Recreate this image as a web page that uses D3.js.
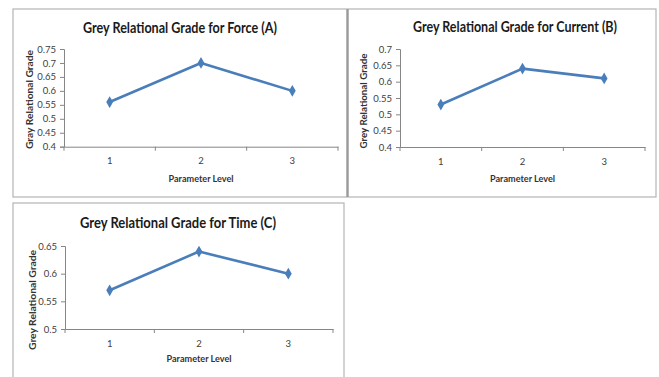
<!DOCTYPE html>
<html>
<head>
<meta charset="utf-8">
<script src="https://cdn.jsdelivr.net/npm/d3@7"></script>
<style>
  html, body { margin: 0; padding: 0; background: #fff; }
  svg { display: block; }
  text { font-family: Lato, "Open Sans", sans-serif; }
</style>
</head>
<body>
<svg id="chart" width="659" height="377"></svg>
<script>
// ---- Data ----
const levels = ["1", "2", "3"];
const forceValues = [0.56, 0.70, 0.60];
const currentValues = [0.53, 0.64, 0.61];
const timeValues = [0.57, 0.64, 0.60];
const forceTicks = [0.4, 0.45, 0.5, 0.55, 0.6, 0.65, 0.7, 0.75];
const currentTicks = [0.4, 0.45, 0.5, 0.55, 0.6, 0.65, 0.7];
const timeTicks = [0.5, 0.55, 0.6, 0.65];
const titles = ["Grey Relational Grade for Force (A)", "Grey Relational Grade for Current (B)", "Grey Relational Grade for Time (C)"];
const yTitles = ["Gray Relational Grade", "Grey Relational Grade", "Grey Relational Grade"];
const xTitle = "Parameter Level";

const svg = d3.select("#chart");

// Panel frames
const frameColor = "#b4b4b4";
svg.append("rect").attr("x", 13).attr("y", 9).attr("width", 334).attr("height", 188)
  .attr("fill", "none").attr("stroke", frameColor).attr("stroke-width", 1.2);
svg.append("rect").attr("x", 348).attr("y", 9).attr("width", 308).attr("height", 188)
  .attr("fill", "none").attr("stroke", frameColor).attr("stroke-width", 1.2);
svg.append("line").attr("x1", 347.5).attr("x2", 347.5).attr("y1", 9).attr("y2", 197)
  .attr("stroke", "#9a9a9a").attr("stroke-width", 2);
svg.append("rect").attr("x", 13).attr("y", 203).attr("width", 331).attr("height", 190)
  .attr("fill", "none").attr("stroke", frameColor).attr("stroke-width", 1.2);

function panel(cfg) {
  const g = svg.append("g");
  const x = d3.scaleBand().domain(levels).range([cfg.x0, cfg.x1]);
  const y = d3.scaleLinear().domain(cfg.domain).range([cfg.yb, cfg.yt]);

  // title
  g.append("text").attr("x", cfg.tx).attr("y", cfg.ty).attr("text-anchor", "middle")
    .attr("font-size", 15).attr("font-weight", "bold").attr("fill", "#1a1a1a")
    .attr("textLength", cfg.tw).attr("lengthAdjust", "spacingAndGlyphs")
    .text(cfg.title);

  // y axis
  const yAxis = d3.axisLeft(y).tickValues(cfg.ticks).tickSize(4).tickPadding(4)
    .tickFormat(d => d3.format("")(+d.toFixed(2)));
  const ya = g.append("g").attr("transform", `translate(${cfg.x0},0)`).call(yAxis);
  ya.select(".domain").attr("stroke", "#868686");
  ya.selectAll(".tick line").attr("stroke", "#868686");
  ya.selectAll(".tick text").attr("font-size", 9.5).attr("fill", "#404040")
    .attr("font-family", "Lato, sans-serif");

  // x axis
  const xAxis = d3.axisBottom(x).tickSize(0).tickPadding(11);
  const xa = g.append("g").attr("transform", `translate(0,${cfg.yb})`).call(xAxis);
  xa.select(".domain").attr("stroke", "#868686");
  xa.selectAll(".tick text").attr("font-size", 9.5).attr("fill", "#404040")
    .attr("font-family", "Lato, sans-serif");
  // category boundary tick marks
  const bounds = levels.map(l => x(l)).concat([cfg.x1]);
  xa.selectAll(".bt").data(bounds).enter().append("line")
    .attr("x1", d => d).attr("x2", d => d).attr("y1", 0).attr("y2", 4)
    .attr("stroke", "#868686");

  // axis titles
  g.append("text").attr("x", (cfg.x0 + cfg.x1) / 2).attr("y", cfg.xty).attr("text-anchor", "middle")
    .attr("font-size", 10).attr("font-weight", "bold").attr("fill", "#333")
    .attr("textLength", 65).attr("lengthAdjust", "spacingAndGlyphs")
    .text(xTitle);
  g.append("text").attr("transform", `translate(${cfg.ytx},${cfg.yty}) rotate(-90)`)
    .attr("text-anchor", "middle")
    .attr("font-size", 9.5).attr("font-weight", "bold").attr("fill", "#333")
    .attr("textLength", cfg.ytw).attr("lengthAdjust", "spacingAndGlyphs")
    .text(cfg.yTitle);

  // line
  const pts = levels.map((l, i) => [x(l) + x.bandwidth() / 2, y(cfg.values[i])]);
  g.append("path").attr("d", d3.line()(pts)).attr("fill", "none")
    .attr("stroke", "#4a7ebb").attr("stroke-width", 2.6).attr("stroke-linejoin", "round");
  g.selectAll(".m").data(pts).enter().append("path")
    .attr("transform", d => `translate(${d[0]},${d[1]})`)
    .attr("d", d3.symbol().type(d3.symbolDiamond).size(40)())
    .attr("fill", "#4a7ebb");
}

panel({ title: titles[0], yTitle: yTitles[0], values: forceValues, ticks: forceTicks,
  domain: [0.4, 0.75], x0: 64, x1: 338, yt: 49, yb: 146.7,
  tx: 180, ty: 33, tw: 194, xty: 182, ytx: 33, yty: 99.5, ytw: 99 });
panel({ title: titles[1], yTitle: yTitles[1], values: currentValues, ticks: currentTicks,
  domain: [0.4, 0.7], x0: 400, x1: 645, yt: 49, yb: 147,
  tx: 515, ty: 32, tw: 204, xty: 182, ytx: 367, yty: 101, ytw: 95 });
panel({ title: titles[2], yTitle: yTitles[2], values: timeValues, ticks: timeTicks,
  domain: [0.5, 0.65], x0: 65, x1: 333, yt: 246, yb: 329,
  tx: 178, ty: 228, tw: 196, xty: 362, ytx: 36, yty: 300, ytw: 100 });
</script>
</body>
</html>
